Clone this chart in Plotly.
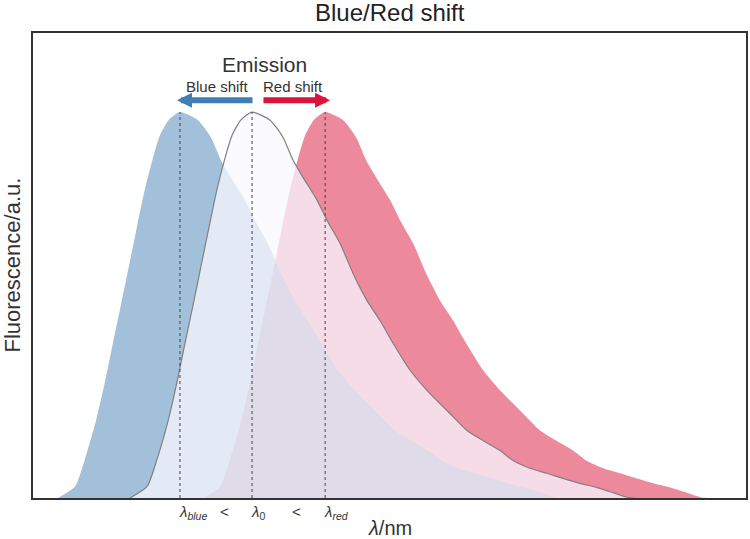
import plotly.graph_objects as go

# Base emission spectrum (wavelength in nm, normalised intensity)
wavelength = [429.0, 437.6, 442.6, 448.2, 452.7, 456.7, 460.8, 464.8, 468.8, 472.9,
              476.9, 480.5, 485.0, 490.6, 499.7, 506.2, 511.3, 516.3, 523.4, 528.4,
              535.0, 541.6, 548.6, 555.2, 561.8, 570.4, 578.9, 590.5, 599.1, 607.2,
              615.8, 622.4, 630.9, 639.5, 647.6, 656.2, 664.8, 672.9, 680.0, 684.1]
intensity = [0.0, 0.03, 0.10, 0.20, 0.30, 0.40, 0.50, 0.60, 0.70, 0.80,
             0.88, 0.94, 0.98, 1.0, 0.979, 0.935, 0.875, 0.831, 0.772, 0.720,
             0.660, 0.582, 0.512, 0.460, 0.401, 0.331, 0.279, 0.219, 0.175, 0.149,
             0.123, 0.097, 0.077, 0.064, 0.051, 0.038, 0.027, 0.014, 0.002, 0.0]
blue_shift = -36.4
red_shift = 36.9
x_range = [380, 740]
y_range = [0, 1.205]

peak_i = intensity.index(max(intensity))
peak0 = wavelength[peak_i]
peak_blue = peak0 + blue_shift
peak_red = peak0 + red_shift

fig = go.Figure()

def spectrum(shift, fillcolor, linecolor, linewidth, name):
    fig.add_trace(go.Scatter(
        x=[w + shift for w in wavelength], y=intensity, mode="lines",
        line=dict(color=linecolor, width=linewidth, shape="spline", smoothing=0.6),
        fill="tozeroy", fillcolor=fillcolor, name=name, hoverinfo="skip"))

spectrum(red_shift, "rgba(220,20,60,0.5)", "rgba(0,0,0,0)", 0, "red")
spectrum(blue_shift, "rgba(70,130,180,0.5)", "rgba(0,0,0,0)", 0, "blue")
spectrum(0, "rgba(248,248,255,0.75)", "#808080", 1.2, "original")

for p in [peak_blue, peak0, peak_red]:
    fig.add_trace(go.Scatter(x=[p, p], y=[0, max(intensity)], mode="lines",
                             line=dict(color="#444444", width=1, dash="dot"),
                             hoverinfo="skip"))

font = "Liberation Sans, Arial, sans-serif"
ann = []
arrow_y = 1.031
ann.append(dict(x=peak_blue - 1.5, y=arrow_y, ax=peak0 + 1, ay=arrow_y, xref="x", yref="y",
                axref="x", ayref="y", text="", showarrow=True, arrowhead=2,
                arrowsize=0.5, arrowwidth=6, arrowcolor="#3f7fb6"))
ann.append(dict(x=peak_red + 2.5, y=arrow_y, ax=peak0 + 5, ay=arrow_y, xref="x", yref="y",
                axref="x", ayref="y", text="", showarrow=True, arrowhead=2,
                arrowsize=0.5, arrowwidth=6, arrowcolor="#dc143c"))
ann.append(dict(x=(peak_blue + peak_red) / 2 + 6, y=1.123, xref="x", yref="y",
                text="Emission", showarrow=False,
                font=dict(size=21, color="#333333", family=font)))
ann.append(dict(x=(peak_blue + peak0) / 2 + 1, y=1.066, xref="x", yref="y",
                text="Blue shift", showarrow=False,
                font=dict(size=15, color="#333333", family=font)))
ann.append(dict(x=(peak0 + peak_red) / 2 + 2, y=1.066, xref="x", yref="y",
                text="Red shift", showarrow=False,
                font=dict(size=15, color="#333333", family=font)))
# x tick-like labels
lab = [(peak_blue, "<i>λ</i><sub><i>blue</i></sub>", "left", -3),
       ((peak_blue + peak0) / 2, "<", "center", 8),
       (peak0, "<i>λ</i><sub>0</sub>", "left", -3),
       ((peak0 + peak_red) / 2, "<", "center", 8),
       (peak_red, "<i>λ</i><sub><i>red</i></sub>", "left", -3)]
for x, t, anc, sh in lab:
    ann.append(dict(x=x, y=0, xref="x", yref="paper", yanchor="top", xanchor=anc,
                    xshift=sh, yshift=-3, text=t, showarrow=False,
                    font=dict(size=15, color="#333333", family=font)))
# axis titles and chart title
ann.append(dict(x=0.5, y=0, xref="paper", yref="paper", yanchor="top", xanchor="center",
                yshift=-17, text="<i>λ</i>/nm", showarrow=False,
                font=dict(size=20, color="#333333", family=font)))
ann.append(dict(x=0, y=0.5, xref="paper", yref="paper", yanchor="middle", xanchor="center",
                xshift=-21, textangle=-90, text="Fluorescence/a.u.", showarrow=False,
                font=dict(size=22, color="#333333", family=font)))
ann.append(dict(x=0.5, y=1, xref="paper", yref="paper", yanchor="bottom", xanchor="center",
                yshift=5, text="Blue/Red shift", showarrow=False,
                font=dict(size=24, color="#222222", family=font)))

fig.update_layout(
    width=750, height=539,
    margin=dict(l=33, r=4, t=33, b=41),
    paper_bgcolor="white", plot_bgcolor="white",
    showlegend=False,
    annotations=ann,
)
fig.update_xaxes(range=x_range, showticklabels=False, ticks="", showgrid=False,
                 zeroline=False, showline=True, mirror=True, linecolor="#333333",
                 linewidth=1.5, automargin=False)
fig.update_yaxes(range=y_range, showticklabels=False, ticks="", showgrid=False,
                 zeroline=False, showline=True, mirror=True, linecolor="#333333",
                 linewidth=1.5, automargin=False)

fig.write_html("out.html", config={"displayModeBar": False},
               post_script="document.body.style.margin='0';document.body.style.overflow='hidden';")
